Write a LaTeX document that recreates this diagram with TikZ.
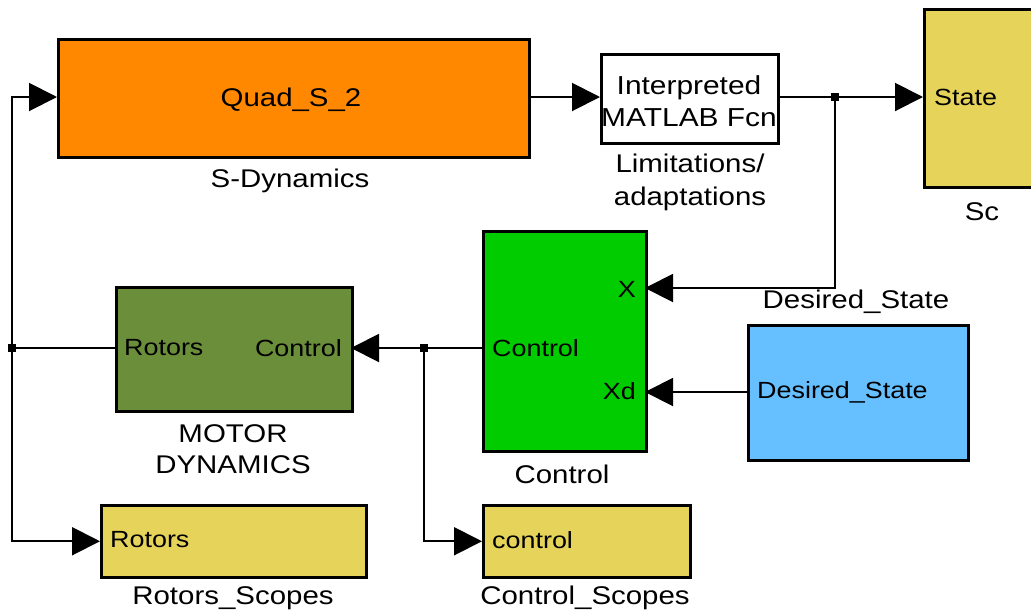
\documentclass[tikz,border=0pt]{standalone}
\usepackage{fontspec}
\setmainfont[FakeStretch=1.15]{Liberation Sans}
\usetikzlibrary{arrows.meta}
\definecolor{quadorange}{HTML}{FF8800}
\definecolor{scopeyellow}{HTML}{E6D45A}
\definecolor{ctrlgreen}{HTML}{00CC00}
\definecolor{desblue}{HTML}{66BFFF}
\definecolor{motorolive}{HTML}{6B8E3B}
\tikzset{
  blk/.style={draw=black, line width=2.5pt, rectangle, anchor=north west, inner sep=0pt},
  wire/.style={line width=2pt},
  arr/.style={wire, -{Triangle[length=28pt,width=28pt]}},
  lbl/.style={font=\fontsize{25.6}{31}\selectfont, align=center, inner sep=0pt},
  port/.style={font=\fontsize{23.4}{27}\selectfont, inner sep=0pt},
  junc/.style={fill=black, minimum size=8pt, inner sep=0pt, rectangle},
}
\begin{document}
\begin{tikzpicture}[x=1pt, y=-1pt]
\useasboundingbox (0,0) rectangle (1031,614);
\clip (0,0) rectangle (1031,614);

% blocks
\node[blk, fill=quadorange, minimum width=471pt, minimum height=118pt] (quad) at (57,38) {};
\node[lbl] (quadtxt) at (291,100) {Quad\_S\_2};
\node[blk, fill=white, minimum width=177pt, minimum height=89pt] (interp) at (600,53) {};
\node[lbl, font=\fontsize{26}{32}\selectfont] (interptxt) at (689,101) {Interpreted\\MATLAB Fcn};
\node[blk, fill=scopeyellow, minimum width=140pt, minimum height=178pt] (sc) at (923,8) {};
\node[port, anchor=west] (scstate) at (934,97) {State};

\node[blk, fill=ctrlgreen, minimum width=163pt, minimum height=220pt] (ctrl) at (482,230) {};
\node[port, anchor=east] (xport) at (636,289) {X};
\node[port, anchor=east] (xdport) at (636,391) {Xd};
\node[port, anchor=west] (ctrlout) at (492,348) {Control};

\node[blk, fill=desblue, minimum width=220pt, minimum height=135pt] (des) at (747,324) {};
\node[port, anchor=west] (destxt) at (757,392) {Desired\_State};

\node[blk, fill=motorolive, minimum width=236pt, minimum height=124pt] (motor) at (115,286) {};
\node[port, anchor=west] (motorin) at (124,348) {Rotors};
\node[port, anchor=east] (motorout) at (342,348) {Control};

\node[blk, fill=scopeyellow, minimum width=265pt, minimum height=72pt] (rscope) at (100,504) {};
\node[port, anchor=west] (rscopetxt) at (110,540) {Rotors};
\node[blk, fill=scopeyellow, minimum width=207pt, minimum height=72pt] (cscope) at (482,504) {};
\node[port, anchor=west] (cscopetxt) at (492,540) {control};

% block names
\node[lbl] (quadname) at (290,181) {S-Dynamics};
\node[lbl, font=\fontsize{25.6}{33}\selectfont] (interpname) at (690,182) {Limitations/\\adaptations};
\node[lbl] (scname) at (982,212) {Sc};
\node[lbl] (desname) at (856,302) {Desired\_State};
\node[lbl] (motorname) at (233,449) {MOTOR\\DYNAMICS};
\node[lbl] (ctrlname) at (562,474) {Control};
\node[lbl] (rscopename) at (233,598) {Rotors\_Scopes};
\node[lbl] (cscopename) at (585,598) {Control\_Scopes};

% branch points
\node[junc] (j1) at (835,97) {};
\node[junc] (j2) at (424,348) {};
\node[junc] (j3) at (12,348) {};
\coordinate (xin) at (645,288);
\coordinate (xdin) at (645,392);
\coordinate (cout) at (482,348);
\coordinate (min) at (351,348);
\coordinate (mout) at (115,348);

% signal lines
\draw[arr] (quad.east |- 0,97) -- (interp.west |- 0,97);
\draw[wire] (interp.east |- 0,97) -- (j1.center);
\draw[arr] (j1.center) -- (sc.west |- 0,97);
\draw[arr] (j1.center) |- (xin);
\draw[arr] (des.west |- xdin) -- (xdin);
\draw[arr] (cout) -- (min);
\draw[arr] (j2.center) |- (cscope.west);
\draw[wire] (mout) -- (j3.center);
\draw[arr] (j3.center) |- (quad.west |- 0,97);
\draw[arr] (j3.center) |- (rscope.west);
\end{tikzpicture}
\end{document}
